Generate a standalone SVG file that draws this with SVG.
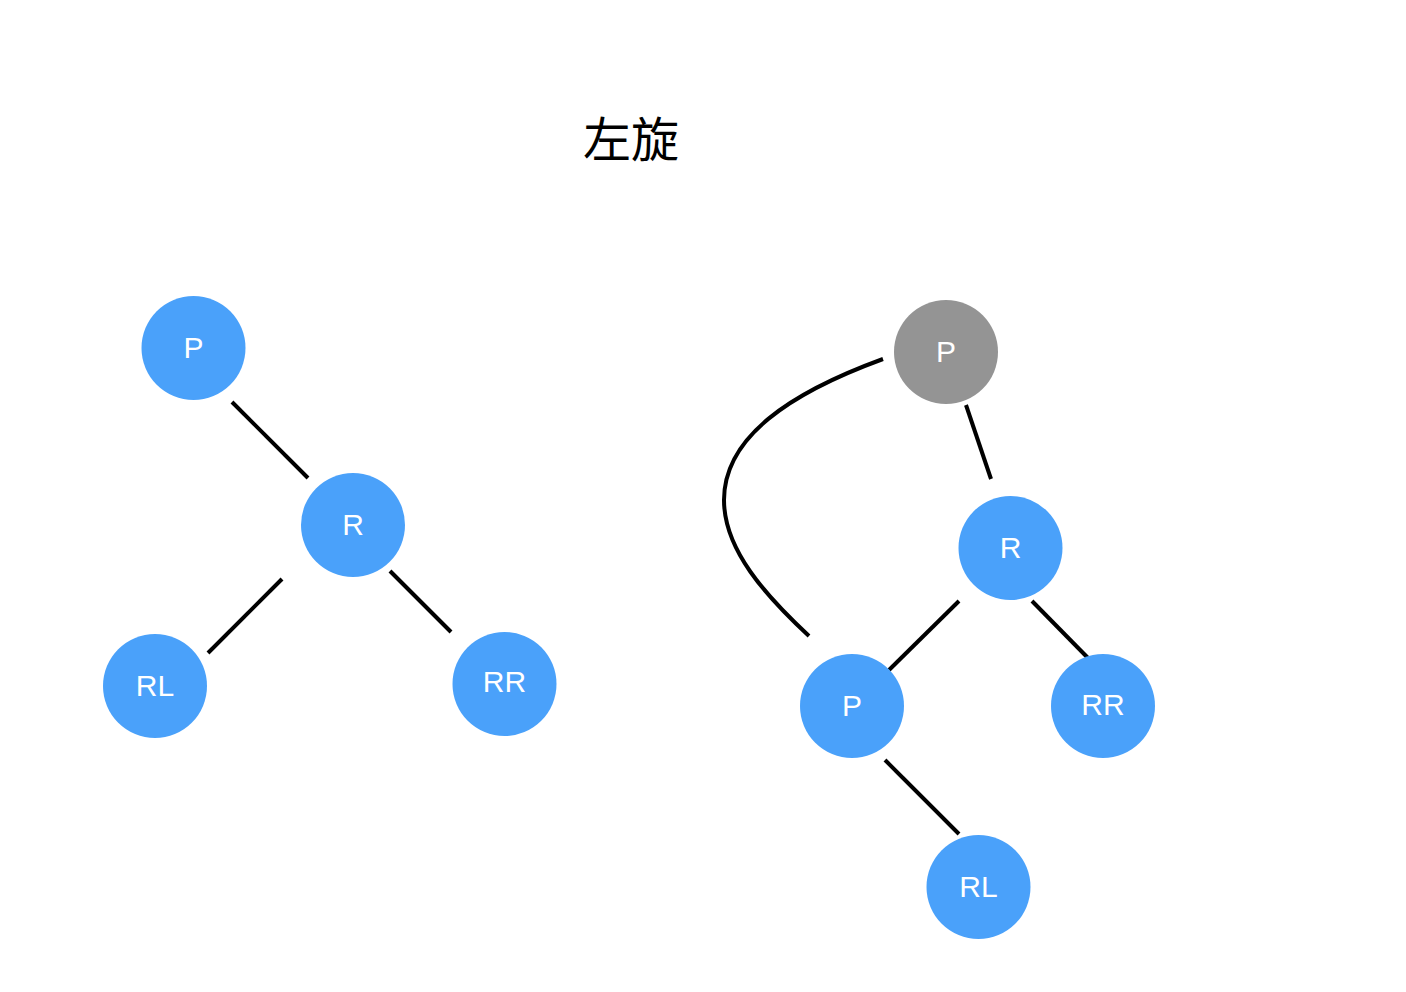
<svg xmlns="http://www.w3.org/2000/svg" width="1406" height="992" viewBox="0 0 1406 992">
<style>
.n{fill:#4AA1FA}
.g{fill:#949494}
.t{fill:#fff;font-family:"Liberation Sans",Arial,sans-serif;font-size:30px;text-anchor:middle;dominant-baseline:central}
.c line,.c path{stroke:#000;stroke-width:4;fill:none}
.title{font-family:"Noto Sans CJK SC","Noto Sans",sans-serif;font-size:48px;fill:#000;text-anchor:middle}
</style>
<rect width="1406" height="992" fill="#fff"/>
<text class="title" x="631" y="157">左旋</text>
<g class="c" id="connectors">
<line x1="232" y1="402" x2="308" y2="478"/>
<line x1="282" y1="579" x2="208" y2="653"/>
<line x1="390" y1="571" x2="451" y2="632"/>
<line x1="966" y1="405" x2="991" y2="479"/>
<line x1="959" y1="601" x2="889" y2="670"/>
<line x1="1032" y1="601" x2="1088" y2="658"/>
<line x1="885" y1="760" x2="959" y2="834"/>
<path d="M883,359 C790,393 724,437 724,500 C724,550 766,596 809,636"/>
</g>
<g id="lP"><circle class="n" cx="193.5" cy="348" r="52"/><text class="t" x="193.5" y="347">P</text></g>
<g id="lR"><circle class="n" cx="353" cy="525" r="52"/><text class="t" x="353" y="524">R</text></g>
<g id="lRL"><circle class="n" cx="155" cy="686" r="52"/><text class="t" x="155" y="685">RL</text></g>
<g id="lRR"><circle class="n" cx="504.5" cy="684" r="52"/><text class="t" x="504.5" y="681">RR</text></g>
<g id="rPg"><circle class="g" cx="946" cy="352" r="52"/><text class="t" x="946" y="351">P</text></g>
<g id="rR"><circle class="n" cx="1010.5" cy="548" r="52"/><text class="t" x="1010.5" y="547">R</text></g>
<g id="rP"><circle class="n" cx="852" cy="706" r="52"/><text class="t" x="852" y="705">P</text></g>
<g id="rRR"><circle class="n" cx="1103" cy="706" r="52"/><text class="t" x="1103" y="704">RR</text></g>
<g id="rRL"><circle class="n" cx="978.5" cy="887" r="52"/><text class="t" x="978.5" y="886">RL</text></g>
</svg>
